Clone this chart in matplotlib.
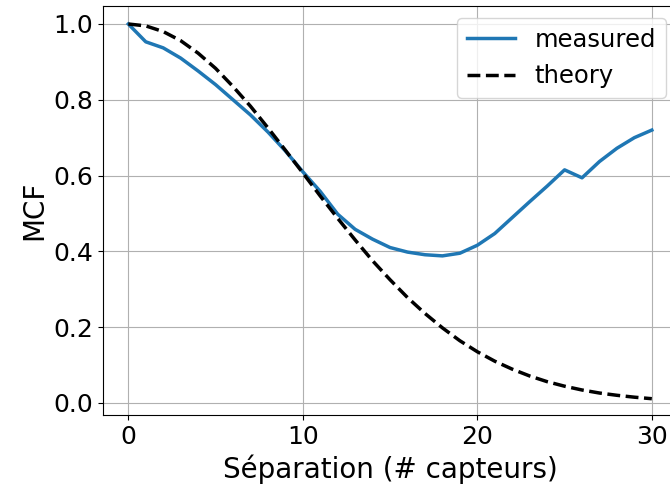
import matplotlib
matplotlib.use('Agg')
import matplotlib.pyplot as plt

# separation in number of sensors
separation = list(range(31))

# measured MCF
measured = [1.000, 0.953, 0.937, 0.910, 0.876, 0.840, 0.800, 0.760, 0.715, 0.665,
            0.610, 0.558, 0.498, 0.458, 0.432, 0.410, 0.398, 0.391, 0.388, 0.395,
            0.416, 0.447, 0.489, 0.531, 0.572, 0.615, 0.594, 0.637, 0.672, 0.700,
            0.720]

# theoretical MCF
theory = [1.000, 0.995, 0.980, 0.956, 0.923, 0.883, 0.835, 0.783, 0.726, 0.667,
          0.607, 0.546, 0.487, 0.430, 0.375, 0.325, 0.278, 0.236, 0.198, 0.164,
          0.135, 0.110, 0.089, 0.071, 0.056, 0.044, 0.034, 0.026, 0.020, 0.015,
          0.011]

fig = plt.figure(figsize=(6.7, 4.95), dpi=100)
W, H = 670, 495
# axes runs slightly off the right edge like the (cropped) reference
ax = fig.add_axes([103 / W, (H - 415) / H, (678 - 103) / W, (415 - 6) / H])

ax.plot(separation, measured, c='#1f77b4', lw=2.5, label='measured')
ax.plot(separation, theory, c='black', ls='--', lw=2.5, label='theory')

ax.set_xlim(-1.45, 31.5)
ax.set_ylim(-0.032, 1.0475)
ax.set_xticks([0, 10, 20, 30])
ax.set_yticks([0.0, 0.2, 0.4, 0.6, 0.8, 1.0])
ax.tick_params(labelsize=18)
ax.grid(True)
ax.set_xlabel('Séparation (# capteurs)', fontsize=20)
ax.set_ylabel('MCF', fontsize=20)
ax.legend(loc='upper right', fontsize=17.5)

fig.savefig('out.png', dpi=100)
